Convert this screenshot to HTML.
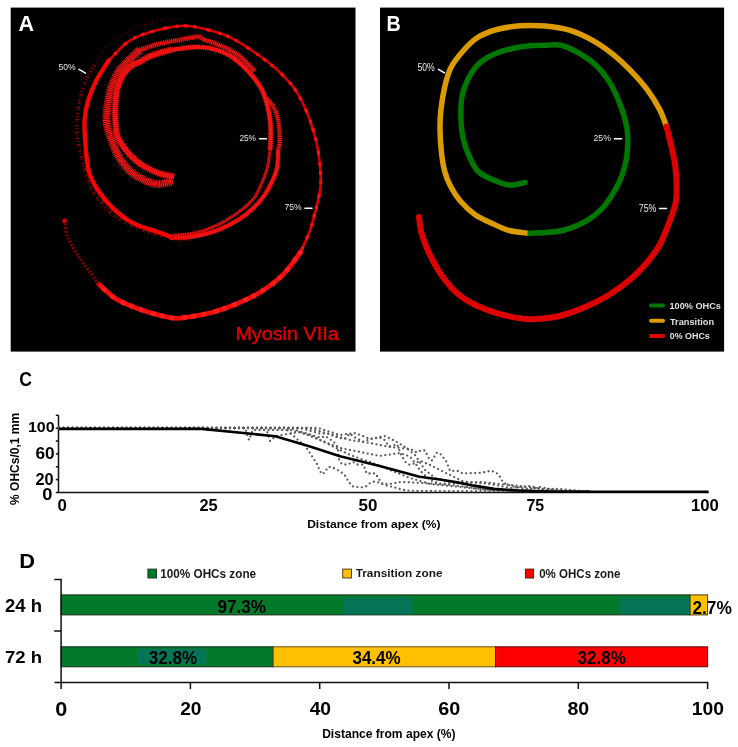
<!DOCTYPE html>
<html><head><meta charset="utf-8"><title>Figure</title><style>
html,body{margin:0;padding:0;background:#fff;width:738px;height:747px;overflow:hidden}
svg{position:absolute;left:0;top:0;display:block;will-change:transform}
text{font-family:"Liberation Sans",sans-serif}
</style></head><body>
<svg width="738" height="747" viewBox="0 0 738 747">
<rect x="10.7" y="7.6" width="344.8" height="344" fill="#000"/>
<defs><filter id="bl" x="-5%" y="-5%" width="110%" height="110%"><feGaussianBlur stdDeviation="0.45"/></filter><filter id="bl2" x="-5%" y="-5%" width="110%" height="110%"><feGaussianBlur stdDeviation="0.35"/></filter></defs>
<g fill="none" stroke="#f01010" stroke-linejoin="round" filter="url(#bl)">
<path d="M172.7,181.3 C170.2,181.8 162.6,184.2 157.8,184.0 C153.1,183.8 148.7,182.0 144.2,180.0 C139.7,178.0 134.6,175.2 130.7,171.8 C126.8,168.4 123.5,163.9 120.7,159.6 C117.8,155.3 115.6,150.7 113.6,146.0 C111.6,141.3 109.8,135.5 108.6,131.2 C107.4,126.9 106.7,124.1 106.5,120.3 C106.3,116.5 106.7,112.3 107.2,108.1 C107.7,103.9 108.6,98.8 109.4,95.0 C110.2,91.2 110.7,88.8 112.2,85.0 C113.6,81.2 115.5,76.0 118.2,72.0 C120.8,68.0 124.4,64.7 128.0,61.0 C131.6,57.3 138.0,51.6 140.0,49.7" stroke-width="4.5" stroke="#a00000" opacity="0.85"/>
<path d="M172.7,181.3 C170.2,181.8 162.6,184.2 157.8,184.0 C153.1,183.8 148.7,182.0 144.2,180.0 C139.7,178.0 134.6,175.2 130.7,171.8 C126.8,168.4 123.5,163.9 120.7,159.6 C117.8,155.3 115.6,150.7 113.6,146.0 C111.6,141.3 109.8,135.5 108.6,131.2 C107.4,126.9 106.7,124.1 106.5,120.3 C106.3,116.5 106.7,112.3 107.2,108.1 C107.7,103.9 108.6,98.8 109.4,95.0 C110.2,91.2 110.7,88.8 112.2,85.0 C113.6,81.2 115.5,76.0 118.2,72.0 C120.8,68.0 124.4,64.7 128.0,61.0 C131.6,57.3 138.0,51.6 140.0,49.7" stroke-width="8" stroke="#ff1a1a" stroke-dasharray="1 0.8"/>
<path d="M140.0,49.7 C143.6,48.6 154.5,44.9 161.7,43.2 C168.9,41.5 177.4,40.4 183.4,39.3 C189.4,38.2 193.9,36.6 197.5,36.7 C201.1,36.8 200.8,38.4 205.0,40.0 C209.2,41.6 216.6,43.7 222.4,46.4 C228.2,49.1 234.3,52.0 239.7,56.2 C245.1,60.4 252.4,68.9 254.9,71.4" stroke-width="3" stroke="#b00000" opacity="0.8"/>
<path d="M140.0,49.7 C143.6,48.6 154.5,44.9 161.7,43.2 C168.9,41.5 177.4,40.4 183.4,39.3 C189.4,38.2 193.9,36.6 197.5,36.7 C201.1,36.8 200.8,38.4 205.0,40.0 C209.2,41.6 216.6,43.7 222.4,46.4 C228.2,49.1 234.3,52.0 239.7,56.2 C245.1,60.4 252.4,68.9 254.9,71.4" stroke-width="5" stroke="#ff1a1a" stroke-dasharray="1 0.9"/>
<path d="M266.0,98.0 C267.3,99.5 271.5,103.1 273.6,107.0 C275.7,110.9 277.4,115.9 278.4,121.6 C279.4,127.3 279.8,136.3 279.7,141.0 C279.6,145.7 278.4,148.5 278.1,150.0" stroke-width="2.5" stroke="#b00000" opacity="0.8"/>
<path d="M266.0,98.0 C267.3,99.5 271.5,103.1 273.6,107.0 C275.7,110.9 277.4,115.9 278.4,121.6 C279.4,127.3 279.8,136.3 279.7,141.0 C279.6,145.7 278.4,148.5 278.1,150.0" stroke-width="5" stroke="#ff1a1a" stroke-dasharray="1 0.9"/>
<path d="M278.1,150.0 C278.0,152.7 278.2,161.2 277.3,166.3 C276.4,171.5 274.6,176.0 272.4,180.9 C270.2,185.8 267.6,190.9 264.3,195.5 C261.1,200.1 257.2,204.4 252.9,208.5 C248.6,212.6 244.0,216.4 238.3,219.9 C232.6,223.4 225.3,227.1 218.8,229.7 C212.3,232.3 205.3,234.1 199.3,235.4 C193.3,236.8 187.9,237.4 183.0,237.8 C178.1,238.2 172.2,237.8 170.0,237.8" stroke-width="3.8" stroke="#f00a0a"/>
<path d="M278.1,150.0 C278.0,152.7 278.2,161.2 277.3,166.3 C276.4,171.5 274.6,176.0 272.4,180.9 C270.2,185.8 267.6,190.9 264.3,195.5 C261.1,200.1 257.2,204.4 252.9,208.5 C248.6,212.6 244.0,216.4 238.3,219.9 C232.6,223.4 225.3,227.1 218.8,229.7 C212.3,232.3 205.3,234.1 199.3,235.4 C193.3,236.8 187.9,237.4 183.0,237.8 C178.1,238.2 172.2,237.8 170.0,237.8" stroke-width="5" stroke="#ff1a1a" stroke-dasharray="1 1.1" opacity="0.7"/>
<path d="M174.0,176.6 C171.8,176.1 165.5,175.5 160.5,173.8 C155.5,172.1 149.0,169.2 144.2,166.4 C139.4,163.6 135.7,160.5 132.0,156.9 C128.3,153.3 124.6,148.3 122.1,144.7 C119.6,141.1 118.2,138.6 117.1,135.2 C116.0,131.8 116.0,128.0 115.7,124.4 C115.4,120.8 115.1,117.7 115.1,113.6 C115.1,109.5 115.3,104.3 115.7,100.0 C116.1,95.7 116.5,92.0 117.6,88.0 C118.8,84.0 120.5,79.5 122.5,76.0 C124.6,72.5 127.1,69.4 130.0,67.0 C132.9,64.6 136.2,63.6 140.0,61.6 C143.8,59.6 147.6,57.1 153.0,55.1 C158.4,53.1 169.2,50.6 172.5,49.7" stroke-width="5" stroke="#e00808"/>
<path d="M174.0,176.6 C171.8,176.1 165.5,175.5 160.5,173.8 C155.5,172.1 149.0,169.2 144.2,166.4 C139.4,163.6 135.7,160.5 132.0,156.9 C128.3,153.3 124.6,148.3 122.1,144.7 C119.6,141.1 118.2,138.6 117.1,135.2 C116.0,131.8 116.0,128.0 115.7,124.4 C115.4,120.8 115.1,117.7 115.1,113.6 C115.1,109.5 115.3,104.3 115.7,100.0 C116.1,95.7 116.5,92.0 117.6,88.0 C118.8,84.0 120.5,79.5 122.5,76.0 C124.6,72.5 127.1,69.4 130.0,67.0 C132.9,64.6 136.2,63.6 140.0,61.6 C143.8,59.6 147.6,57.1 153.0,55.1 C158.4,53.1 169.2,50.6 172.5,49.7" stroke-width="7" stroke="#ff1a1a" stroke-dasharray="1 1" opacity="0.85"/>
<path d="M172.5,49.7 C176.1,49.3 187.7,47.3 194.2,47.1 C200.7,46.9 205.4,47.1 211.5,48.6 C217.6,50.1 224.8,52.4 231.0,56.2 C237.2,60.0 243.3,66.0 248.4,71.4 C253.5,76.8 258.2,82.9 261.4,88.7 C264.6,94.5 266.0,100.1 267.5,106.0 C269.0,111.9 270.0,117.7 270.5,124.0 C271.0,130.3 270.6,139.3 270.5,143.6 C270.4,147.9 270.1,148.9 270.0,150.0" stroke-width="4" stroke="#f01010"/>
<path d="M172.5,49.7 C176.1,49.3 187.7,47.3 194.2,47.1 C200.7,46.9 205.4,47.1 211.5,48.6 C217.6,50.1 224.8,52.4 231.0,56.2 C237.2,60.0 243.3,66.0 248.4,71.4 C253.5,76.8 258.2,82.9 261.4,88.7 C264.6,94.5 266.0,100.1 267.5,106.0 C269.0,111.9 270.0,117.7 270.5,124.0 C271.0,130.3 270.6,139.3 270.5,143.6 C270.4,147.9 270.1,148.9 270.0,150.0" stroke-width="5.5" stroke="#ff1a1a" stroke-dasharray="1 1.2" opacity="0.8"/>
<path d="M270.0,150.0 C269.6,152.7 268.8,161.2 267.6,166.3 C266.4,171.5 264.9,175.8 262.7,180.9 C260.5,186.1 257.9,192.6 254.6,197.2 C251.3,201.8 247.8,204.7 243.2,208.5 C238.6,212.3 232.3,216.7 226.9,219.9 C221.5,223.2 216.1,225.8 210.7,228.0 C205.3,230.2 199.8,231.8 194.4,233.0 C189.0,234.2 182.2,234.5 178.1,234.9 C174.0,235.3 171.3,235.4 170.0,235.5" stroke-width="2.5" stroke="#c00000" opacity="0.9"/>
<path d="M270.0,150.0 C269.6,152.7 268.8,161.2 267.6,166.3 C266.4,171.5 264.9,175.8 262.7,180.9 C260.5,186.1 257.9,192.6 254.6,197.2 C251.3,201.8 247.8,204.7 243.2,208.5 C238.6,212.3 232.3,216.7 226.9,219.9 C221.5,223.2 216.1,225.8 210.7,228.0 C205.3,230.2 199.8,231.8 194.4,233.0 C189.0,234.2 182.2,234.5 178.1,234.9 C174.0,235.3 171.3,235.4 170.0,235.5" stroke-width="3.5" stroke="#ff1a1a" stroke-dasharray="1 1.4" opacity="0.8"/>
<path d="M170.0,236.5 C167.9,235.7 163.5,234.0 157.3,231.8 C151.1,229.6 140.3,227.1 133.0,223.2 C125.7,219.3 119.1,213.9 113.4,208.6 C107.7,203.3 102.9,197.6 98.8,191.5 C94.7,185.4 91.2,180.0 89.0,172.0 C86.8,164.0 86.1,152.4 85.4,143.6 C84.7,134.8 84.1,126.5 84.6,119.2 C85.1,111.9 86.5,106.2 88.5,99.7 C90.5,93.2 93.1,86.7 96.4,80.2 C99.8,73.7 106.6,64.0 108.6,60.7" stroke-width="4.3" stroke="#ff0505" stroke-linecap="round"/>
<path d="M108.6,60.7 C111.4,57.9 120.4,47.8 125.6,43.6 C130.8,39.4 134.0,38.0 140.0,35.6 C146.0,33.2 154.5,30.7 161.7,29.1 C168.9,27.5 176.2,25.8 183.4,25.8 C190.6,25.8 197.1,27.1 205.0,29.1 C212.9,31.1 222.3,33.6 231.0,37.8 C239.7,41.9 249.0,48.4 257.0,54.0 C265.0,59.6 272.3,65.2 278.8,71.4 C285.3,77.6 291.2,83.8 296.0,90.9 C300.8,98.1 304.3,105.9 307.7,114.3 C311.1,122.7 314.1,132.6 316.2,141.1 C318.2,149.6 319.3,157.8 320.0,165.5 C320.7,173.2 321.2,179.8 320.5,187.0 C319.8,194.2 317.8,201.3 316.0,208.6 C314.2,215.8 312.6,223.2 310.0,230.5 C307.4,237.8 302.0,248.8 300.4,252.5" stroke-width="2.6" stroke="#d80000" stroke-linecap="round"/>
<path d="M108.6,60.7 C111.4,57.9 120.4,47.8 125.6,43.6 C130.8,39.4 134.0,38.0 140.0,35.6 C146.0,33.2 154.5,30.7 161.7,29.1 C168.9,27.5 176.2,25.8 183.4,25.8 C190.6,25.8 197.1,27.1 205.0,29.1 C212.9,31.1 222.3,33.6 231.0,37.8 C239.7,41.9 249.0,48.4 257.0,54.0 C265.0,59.6 272.3,65.2 278.8,71.4 C285.3,77.6 291.2,83.8 296.0,90.9 C300.8,98.1 304.3,105.9 307.7,114.3 C311.1,122.7 314.1,132.6 316.2,141.1 C318.2,149.6 319.3,157.8 320.0,165.5 C320.7,173.2 321.2,179.8 320.5,187.0 C319.8,194.2 317.8,201.3 316.0,208.6 C314.2,215.8 312.6,223.2 310.0,230.5 C307.4,237.8 302.0,248.8 300.4,252.5" stroke-width="3.4" stroke="#ff1010" stroke-linecap="round" stroke-dasharray="0.8 9 0.3 13 1.2 11 0.3 8"/>
<path d="M300.4,252.5 C297.5,256.1 289.8,267.9 283.3,274.4 C276.8,280.9 269.1,286.6 261.4,291.5 C253.7,296.4 245.1,300.2 237.0,303.7 C228.9,307.1 220.7,310.0 212.6,312.2 C204.5,314.4 194.3,316.0 188.2,317.0 C182.1,318.0 180.3,318.5 176.0,318.3 C171.7,318.1 168.6,317.6 162.2,316.0 C155.8,314.4 145.5,311.5 137.8,308.6 C130.1,305.7 122.4,302.9 115.9,298.8 C109.4,294.7 101.7,286.6 98.8,284.2" stroke-width="4.8" stroke="#f00808" stroke-linecap="round"/>
<path d="M300.4,252.5 C297.5,256.1 289.8,267.9 283.3,274.4 C276.8,280.9 269.1,286.6 261.4,291.5 C253.7,296.4 245.1,300.2 237.0,303.7 C228.9,307.1 220.7,310.0 212.6,312.2 C204.5,314.4 194.3,316.0 188.2,317.0 C182.1,318.0 180.3,318.5 176.0,318.3 C171.7,318.1 168.6,317.6 162.2,316.0 C155.8,314.4 145.5,311.5 137.8,308.6 C130.1,305.7 122.4,302.9 115.9,298.8 C109.4,294.7 101.7,286.6 98.8,284.2" stroke-width="5" stroke="#ff1a1a" stroke-linecap="round" stroke-dasharray="0.5 8 1 12 0.5 10"/>
<path d="M98.8,284.2 C96.4,280.9 88.3,270.4 84.2,264.7 C80.1,259.0 77.3,254.9 74.4,250.0 C71.5,245.1 68.6,240.2 67.0,235.4 C65.4,230.6 65.1,223.4 64.7,221.0" stroke-width="3.2" stroke="#a00000" opacity="0.8" stroke-dasharray="2 1.6"/>
<path d="M94.0,65.5 C95.0,63.8 97.7,58.3 100.0,55.0 C102.3,51.7 105.0,48.4 108.0,45.5 C111.0,42.6 114.3,40.0 118.0,37.5 C121.7,35.0 125.5,32.7 130.0,30.5 C134.5,28.3 139.2,26.2 145.0,24.5 C150.8,22.8 158.3,21.4 165.0,20.5 C171.7,19.6 181.7,19.2 185.0,19.0" stroke-width="2.2" stroke="#c00000" opacity="0.4" stroke-dasharray="1 3 0.8 4 1.2 2.5"/>
<path d="M94.0,65.5 C92.3,68.8 86.7,77.7 84.0,85.0 C81.3,92.3 79.2,101.3 78.0,109.4 C76.8,117.5 76.3,125.7 76.9,133.8 C77.5,141.9 80.1,151.3 81.7,158.2 C83.3,165.1 84.9,169.7 86.6,175.0 C88.3,180.3 89.6,185.5 92.0,190.0 C94.4,194.5 97.4,197.8 101.0,202.0 C104.6,206.2 107.3,210.7 113.4,215.0 C119.5,219.3 129.7,224.6 137.8,228.0 C145.9,231.4 153.1,233.4 162.0,235.4 C170.9,237.4 186.2,239.1 191.0,239.8" stroke-width="3.6" stroke="#d00000" opacity="0.7" stroke-dasharray="1.2 1.8 0.8 2.5 1.5 1.2 0.6 3"/>
</g>
<circle cx="64.7" cy="220.8" r="2.6" fill="#f01010" opacity="0.75" filter="url(#bl)"/>
<g stroke="#fff" stroke-width="1.5" stroke-linecap="round">
<line x1="79" y1="69.3" x2="85.5" y2="73.1"/>
<line x1="259.5" y1="138.7" x2="266.5" y2="138.7"/>
<line x1="305" y1="208.3" x2="312" y2="208.3"/>
</g>
<rect x="380" y="7.6" width="344.1" height="344" fill="#000"/>
<g fill="none" stroke-linejoin="round" filter="url(#bl2)">
<path d="M525.0,182.5 C522.3,182.9 514.8,185.7 509.0,185.0 C503.2,184.3 495.2,180.8 490.0,178.5 C484.8,176.2 480.9,174.4 477.6,171.0 C474.3,167.6 472.4,163.2 470.0,158.0 C467.6,152.8 465.0,146.3 463.5,140.0 C462.0,133.7 461.3,126.7 461.0,120.0 C460.7,113.3 460.8,105.7 461.5,100.0 C462.2,94.3 463.2,90.7 465.0,86.0 C466.8,81.3 469.2,76.2 472.0,72.0 C474.8,67.8 477.8,64.2 482.0,61.0 C486.2,57.8 491.5,55.2 497.0,53.0 C502.5,50.8 509.5,49.2 515.0,48.0 C520.5,46.8 525.0,46.2 530.0,45.8 C535.0,45.3 539.7,45.3 545.0,45.3 C550.3,45.2 555.9,44.0 562.0,45.5 C568.1,47.0 575.9,51.3 581.6,54.6 C587.3,57.9 591.7,61.2 596.2,65.5 C600.7,69.8 604.7,74.5 608.4,80.2 C612.1,85.9 615.4,93.2 618.2,99.7 C621.0,106.2 623.4,113.1 625.0,119.2 C626.6,125.3 627.5,129.8 627.8,136.3 C628.0,142.8 627.4,151.9 626.5,158.2 C625.6,164.5 624.3,168.9 622.5,174.0 C620.7,179.1 618.9,183.5 615.7,189.0 C612.5,194.5 608.4,201.7 603.5,207.0 C598.6,212.3 593.0,217.0 586.5,220.8 C580.0,224.6 571.4,228.0 564.5,230.0 C557.6,232.0 551.1,232.1 545.0,232.6 C538.9,233.1 530.5,233.1 527.6,233.2" stroke="#007800" stroke-width="5.5" stroke-linecap="round"/>
<path d="M527.6,233.2 C524.6,232.8 515.2,232.1 509.3,230.5 C503.4,228.9 497.9,226.1 492.2,223.5 C486.5,220.9 480.4,218.4 475.1,214.7 C469.8,211.0 464.6,206.0 460.5,201.3 C456.4,196.6 453.3,191.7 450.7,186.6 C448.1,181.5 446.1,176.6 444.6,171.0 C443.1,165.4 442.3,160.0 441.5,153.0 C440.7,146.0 440.1,136.3 440.0,129.0 C439.9,121.7 440.2,115.9 441.0,109.0 C441.8,102.1 443.0,94.3 444.6,87.5 C446.2,80.7 447.6,74.1 450.7,68.0 C453.8,61.9 458.5,56.1 463.0,51.0 C467.5,45.9 471.9,41.1 477.6,37.5 C483.3,33.9 489.9,31.4 497.0,29.5 C504.1,27.6 512.0,26.4 520.0,25.8 C528.0,25.2 536.8,25.3 545.0,26.0 C553.2,26.7 561.3,27.7 569.4,30.2 C577.5,32.7 586.5,37.0 593.8,41.1 C601.1,45.2 607.2,49.7 613.3,54.6 C619.4,59.5 624.7,64.5 630.4,70.4 C636.1,76.3 642.5,83.4 647.4,89.9 C652.3,96.4 656.4,103.3 659.6,109.4 C662.8,115.5 665.4,123.7 666.5,126.5" stroke="#dc9c00" stroke-width="5.5"/>
<path d="M666.5,126.5 C667.3,129.8 669.8,139.5 671.3,146.0 C672.8,152.5 674.3,158.7 675.2,165.5 C676.1,172.3 676.6,180.2 676.6,186.6 C676.6,193.0 676.8,197.6 675.5,203.7 C674.2,209.8 671.5,216.3 668.9,223.2 C666.2,230.1 663.2,238.5 659.6,245.0 C656.0,251.5 652.3,256.3 647.4,262.0 C642.5,267.7 636.9,273.8 630.4,279.3 C623.9,284.8 616.1,290.5 608.4,295.2 C600.7,299.9 592.1,303.9 584.0,307.4 C575.9,310.9 566.1,314.2 559.6,316.0 C553.1,317.8 550.5,317.8 545.0,318.3 C539.5,318.8 533.5,319.6 526.3,319.0 C519.1,318.4 510.1,316.9 502.0,314.7 C493.9,312.5 484.9,309.4 477.6,306.0 C470.3,302.6 464.1,299.3 458.0,294.0 C451.9,288.7 445.9,281.3 441.0,274.4 C436.1,267.5 432.1,259.4 428.8,252.5 C425.6,245.6 423.1,238.9 421.5,233.0 C419.9,227.1 419.4,219.7 419.0,217.0" stroke="#dd0000" stroke-width="6" stroke-linecap="round"/>
</g>
<g stroke="#fff" stroke-width="1.5" stroke-linecap="round">
<line x1="438.5" y1="69.3" x2="444.5" y2="72.8"/>
<line x1="614.5" y1="138.7" x2="621.5" y2="138.7"/>
<line x1="659.5" y1="208.6" x2="666.5" y2="208.6"/>
</g>
<g stroke-width="4" stroke-linecap="round">
<line x1="651" y1="305.5" x2="663" y2="305.5" stroke="#007800"/>
<line x1="651" y1="320.7" x2="663" y2="320.7" stroke="#dc9c00"/>
<line x1="651" y1="336" x2="663" y2="336" stroke="#dd0000"/>
</g>
<g stroke="#111" stroke-width="1.5" fill="none">
<path d="M58.5,415.3 V492.5 H708.6"/>
<line x1="55.8" y1="415.3" x2="58.5" y2="415.3"/>
<line x1="55.8" y1="428.2" x2="58.5" y2="428.2"/>
<line x1="55.8" y1="441.0" x2="58.5" y2="441.0"/>
<line x1="55.8" y1="453.9" x2="58.5" y2="453.9"/>
<line x1="55.8" y1="466.8" x2="58.5" y2="466.8"/>
<line x1="55.8" y1="479.6" x2="58.5" y2="479.6"/>
<line x1="55.8" y1="492.5" x2="58.5" y2="492.5"/>
</g>
<text x="0" y="0" font-size="12" font-weight="bold" fill="#000" text-anchor="middle" transform="translate(18.9,458.9) rotate(-90)">% OHCs/0,1 mm</text>
<g fill="none" stroke="#5a5a5a" stroke-width="2.3" stroke-linecap="round" stroke-dasharray="0 4.5">
<path d="M59.0,428.0 L285.0,428.0 L298.0,440.0 L305.0,445.7 L311.3,455.2 L316.7,463.4 L320.1,471.5 L322.8,474.2 L328.8,466.7 L333.6,468.1 L340.3,471.5 L345.0,475.6 L349.1,482.3 L352.5,486.4 L357.3,487.1 L362.0,487.3 L366.0,486.4 L370.1,483.0 L373.5,481.7 L378.3,482.3 L383.7,484.8 L390.5,486.4 L395.9,487.8 L402.7,489.8 L409.4,490.7 L420.0,491.0 L590.0,491.3"/>
<path d="M59.0,428.0 L290.0,428.0 L305.0,433.0 L320.0,437.6 L325.4,436.3 L333.6,441.7 L337.6,447.1 L339.0,459.3 L341.7,464.0 L347.1,464.7 L353.2,462.0 L358.0,464.7 L363.4,464.7 L366.7,473.5 L375.6,473.5 L378.3,478.3 L382.3,483.7 L390.0,484.0 L400.0,482.0 L410.0,482.3 L420.0,483.0 L440.0,484.0 L460.0,486.0 L480.0,489.0 L500.0,491.0 L590.0,491.3"/>
<path d="M59.0,428.0 L300.0,428.0 L320.0,433.6 L328.1,433.6 L337.6,437.6 L344.4,439.0 L349.8,433.6 L353.9,436.9 L362.7,441.7 L370.8,439.0 L379.6,437.6 L383.7,439.0 L389.1,446.4 L397.2,444.4 L400.6,453.9 L405.4,462.0 L409.4,464.7 L414.9,463.4 L420.0,460.7 L430.0,465.0 L440.0,470.0 L450.0,475.0 L460.0,480.0 L470.0,484.0 L490.0,488.0 L510.0,491.0 L590.0,491.3"/>
<path d="M59.0,428.0 L308.0,428.0 L330.0,434.0 L350.0,440.0 L370.0,443.0 L390.0,447.0 L410.0,449.0 L416.8,452.5 L420.8,450.5 L424.9,450.5 L429.0,458.6 L431.7,460.7 L437.1,452.5 L441.2,454.6 L446.6,462.0 L450.0,470.8 L457.4,470.8 L462.8,473.5 L481.8,472.8 L490.6,470.8 L495.4,472.2 L498.8,474.9 L503.5,483.0 L510.0,485.7 L520.0,488.0 L530.0,489.0 L540.0,487.0 L550.0,489.0 L560.0,491.0 L590.0,491.3"/>
<path d="M59.0,428.0 L266.0,428.0 L270.0,441.0 L276.0,436.0 L300.0,432.0 L320.0,440.0 L340.0,448.0 L360.0,452.0 L380.0,456.0 L400.0,453.0 L410.0,456.6 L415.4,463.4 L420.8,471.5 L430.0,480.0 L440.0,484.0 L460.0,483.0 L480.0,482.0 L500.0,484.0 L520.0,486.0 L540.0,489.0 L560.0,489.0 L580.0,491.0 L590.0,491.3"/>
<path d="M59.0,428.0 L245.0,428.0 L249.0,440.0 L253.0,430.0 L290.0,430.0 L310.0,435.0 L330.0,445.0 L350.0,455.0 L370.0,462.0 L390.0,470.0 L410.0,478.0 L430.0,484.0 L450.0,486.0 L470.0,488.0 L490.0,490.0 L520.0,491.0 L590.0,491.3"/>
<path d="M59.0,428.0 L318.0,428.0 L340.0,435.0 L355.0,433.0 L370.0,439.0 L385.0,436.0 L395.0,441.0 L405.0,447.0 L415.0,455.0 L425.0,470.0 L435.0,478.0 L450.0,482.0 L470.0,482.0 L490.0,484.0 L510.0,488.0 L530.0,486.0 L545.0,490.0 L590.0,491.3"/>
</g>
<path d="M59.0,428.9 L201.7,428.9 L275.4,436.2 L310.0,446.4 L340.0,456.2 L379.7,465.9 L419.5,476.7 L440.0,479.5 L460.0,482.9 L475.0,485.9 L494.0,488.9 L516.5,490.4 L554.0,491.7 L708.6,491.8" fill="none" stroke="#000" stroke-width="2.6" stroke-linejoin="round"/>
<rect x="61.1" y="594.9" width="629.0" height="20" fill="#027a2a" stroke="#1d2d1d" stroke-width="1"/>
<rect x="344" y="597.5" width="68.7" height="16.8" fill="#047556"/>
<rect x="619.8" y="597.5" width="69.8" height="16.8" fill="#047556"/>
<rect x="690.1" y="594.9" width="17.5" height="20" fill="#ffc000" stroke="#4a3a10" stroke-width="1"/>
<rect x="61.1" y="646.8" width="212.1" height="20" fill="#027a2a" stroke="#1d2d1d" stroke-width="1"/>
<rect x="137.7" y="649" width="68.5" height="15.4" fill="#047556"/>
<rect x="273.2" y="646.8" width="222.4" height="20" fill="#ffc000" stroke="#6a5020" stroke-width="1"/>
<rect x="495.5" y="646.8" width="212.1" height="20" fill="#ff0000" stroke="#5a1010" stroke-width="1"/>
<g stroke="#111" stroke-width="1.5" fill="none">
<path d="M54.2,579.5 H61.1 V689"/>
<path d="M54.2,631 H61.1"/>
<path d="M54.5,682.5 H707.6 V689"/>
<line x1="190.4" y1="682.5" x2="190.4" y2="689"/>
<line x1="319.7" y1="682.5" x2="319.7" y2="689"/>
<line x1="449.0" y1="682.5" x2="449.0" y2="689"/>
<line x1="578.3" y1="682.5" x2="578.3" y2="689"/>
</g>
<rect x="147.9" y="569.1" width="8.6" height="8.9" fill="#027a2a" stroke="#1a2a1a" stroke-width="0.9"/>
<rect x="342.7" y="569.1" width="8.8" height="8.9" fill="#ffc000" stroke="#3a3010" stroke-width="0.9"/>
<rect x="525.4" y="569.1" width="8.2" height="8.9" fill="#ff0000" stroke="#3a1010" stroke-width="0.9"/>
<text x="18.50" y="30.65" font-size="22.16" font-weight="bold" fill="#fff" textLength="15.55" lengthAdjust="spacingAndGlyphs">A</text>
<text x="386.45" y="30.55" font-size="22.60" font-weight="bold" fill="#fff" textLength="14.23" lengthAdjust="spacingAndGlyphs">B</text>
<text x="58.40" y="69.83" font-size="9.65" font-weight="normal" fill="#e6e6e6" textLength="17.13" lengthAdjust="spacingAndGlyphs">50%</text>
<text x="239.40" y="140.52" font-size="9.80" font-weight="normal" fill="#e6e6e6" textLength="16.61" lengthAdjust="spacingAndGlyphs">25%</text>
<text x="284.40" y="209.68" font-size="9.80" font-weight="normal" fill="#e6e6e6" textLength="17.23" lengthAdjust="spacingAndGlyphs">75%</text>
<text x="417.40" y="70.63" font-size="10.08" font-weight="normal" fill="#e6e6e6" textLength="17.23" lengthAdjust="spacingAndGlyphs">50%</text>
<text x="593.50" y="140.52" font-size="9.80" font-weight="normal" fill="#e6e6e6" textLength="17.45" lengthAdjust="spacingAndGlyphs">25%</text>
<text x="638.75" y="211.68" font-size="10.08" font-weight="normal" fill="#e6e6e6" textLength="17.71" lengthAdjust="spacingAndGlyphs">75%</text>
<text x="235.40" y="339.68" font-size="19.27" font-weight="normal" fill="#e60000" textLength="103.28" lengthAdjust="spacingAndGlyphs" stroke="#e60000" stroke-width="0.35">Myosin VIIa</text>
<text x="669.50" y="308.68" font-size="8.64" font-weight="bold" fill="#e0e0e0" textLength="51.40" lengthAdjust="spacingAndGlyphs">100% OHCs</text>
<text x="670.00" y="324.57" font-size="9.49" font-weight="bold" fill="#e0e0e0" textLength="44.04" lengthAdjust="spacingAndGlyphs">Transition</text>
<text x="669.75" y="338.68" font-size="9.80" font-weight="bold" fill="#e0e0e0" textLength="40.01" lengthAdjust="spacingAndGlyphs">0% OHCs</text>
<text x="19.20" y="385.68" font-size="20.34" font-weight="bold" fill="#000" textLength="12.73" lengthAdjust="spacingAndGlyphs">C</text>
<text x="19.15" y="567.50" font-size="19.30" font-weight="bold" fill="#000" textLength="15.77" lengthAdjust="spacingAndGlyphs">D</text>
<text x="27.90" y="431.63" font-size="15.22" font-weight="bold" fill="#000" textLength="26.69" lengthAdjust="spacingAndGlyphs">100</text>
<text x="35.40" y="458.55" font-size="15.71" font-weight="bold" fill="#000" textLength="19.22" lengthAdjust="spacingAndGlyphs">60</text>
<text x="35.40" y="484.60" font-size="15.86" font-weight="bold" fill="#000" textLength="18.20" lengthAdjust="spacingAndGlyphs">20</text>
<text x="42.25" y="499.60" font-size="15.86" font-weight="bold" fill="#000" textLength="10.20" lengthAdjust="spacingAndGlyphs">0</text>
<text x="57.40" y="510.67" font-size="16.79" font-weight="bold" fill="#000" textLength="9.38" lengthAdjust="spacingAndGlyphs">0</text>
<text x="199.45" y="510.50" font-size="16.29" font-weight="bold" fill="#000" textLength="18.17" lengthAdjust="spacingAndGlyphs">25</text>
<text x="358.45" y="510.50" font-size="16.29" font-weight="bold" fill="#000" textLength="18.90" lengthAdjust="spacingAndGlyphs">50</text>
<text x="526.40" y="510.58" font-size="15.82" font-weight="bold" fill="#000" textLength="17.72" lengthAdjust="spacingAndGlyphs">75</text>
<text x="690.95" y="510.60" font-size="15.86" font-weight="bold" fill="#000" textLength="27.89" lengthAdjust="spacingAndGlyphs">100</text>
<text x="307.15" y="527.53" font-size="11.80" font-weight="bold" fill="#000" textLength="133.42" lengthAdjust="spacingAndGlyphs">Distance from apex (%)</text>
<text x="160.25" y="577.50" font-size="12.43" font-weight="bold" fill="#1a1a1a" textLength="95.82" lengthAdjust="spacingAndGlyphs">100% OHCs zone</text>
<text x="355.70" y="576.60" font-size="11.74" font-weight="bold" fill="#1a1a1a" textLength="86.81" lengthAdjust="spacingAndGlyphs">Transition zone</text>
<text x="539.15" y="577.52" font-size="12.07" font-weight="bold" fill="#1a1a1a" textLength="81.40" lengthAdjust="spacingAndGlyphs">0% OHCs zone</text>
<text x="4.95" y="611.58" font-size="17.99" font-weight="bold" fill="#000" textLength="37.03" lengthAdjust="spacingAndGlyphs">24 h</text>
<text x="4.95" y="662.60" font-size="17.09" font-weight="bold" fill="#000" textLength="37.05" lengthAdjust="spacingAndGlyphs">72 h</text>
<text x="217.50" y="612.55" font-size="17.57" font-weight="bold" fill="#000" textLength="48.61" lengthAdjust="spacingAndGlyphs">97.3%</text>
<text x="692.40" y="613.58" font-size="17.95" font-weight="bold" fill="#000" textLength="39.52" lengthAdjust="spacingAndGlyphs">2.7%</text>
<text x="148.75" y="663.65" font-size="17.99" font-weight="bold" fill="#000" textLength="48.51" lengthAdjust="spacingAndGlyphs">32.8%</text>
<text x="352.45" y="663.62" font-size="18.49" font-weight="bold" fill="#000" textLength="48.15" lengthAdjust="spacingAndGlyphs">34.4%</text>
<text x="577.50" y="663.55" font-size="19.12" font-weight="bold" fill="#000" textLength="48.46" lengthAdjust="spacingAndGlyphs">32.8%</text>
<text x="55.20" y="715.67" font-size="19.49" font-weight="bold" fill="#000" textLength="12.02" lengthAdjust="spacingAndGlyphs">0</text>
<text x="180.15" y="714.55" font-size="19.27" font-weight="bold" fill="#000" textLength="21.31" lengthAdjust="spacingAndGlyphs">20</text>
<text x="309.65" y="714.55" font-size="19.27" font-weight="bold" fill="#000" textLength="21.46" lengthAdjust="spacingAndGlyphs">40</text>
<text x="438.15" y="714.55" font-size="19.27" font-weight="bold" fill="#000" textLength="22.04" lengthAdjust="spacingAndGlyphs">60</text>
<text x="567.50" y="714.55" font-size="19.27" font-weight="bold" fill="#000" textLength="21.74" lengthAdjust="spacingAndGlyphs">80</text>
<text x="691.75" y="714.55" font-size="19.27" font-weight="bold" fill="#000" textLength="32.25" lengthAdjust="spacingAndGlyphs">100</text>
<text x="322.15" y="737.65" font-size="11.86" font-weight="bold" fill="#000" textLength="133.42" lengthAdjust="spacingAndGlyphs">Distance from apex (%)</text>
</svg>
</body></html>
